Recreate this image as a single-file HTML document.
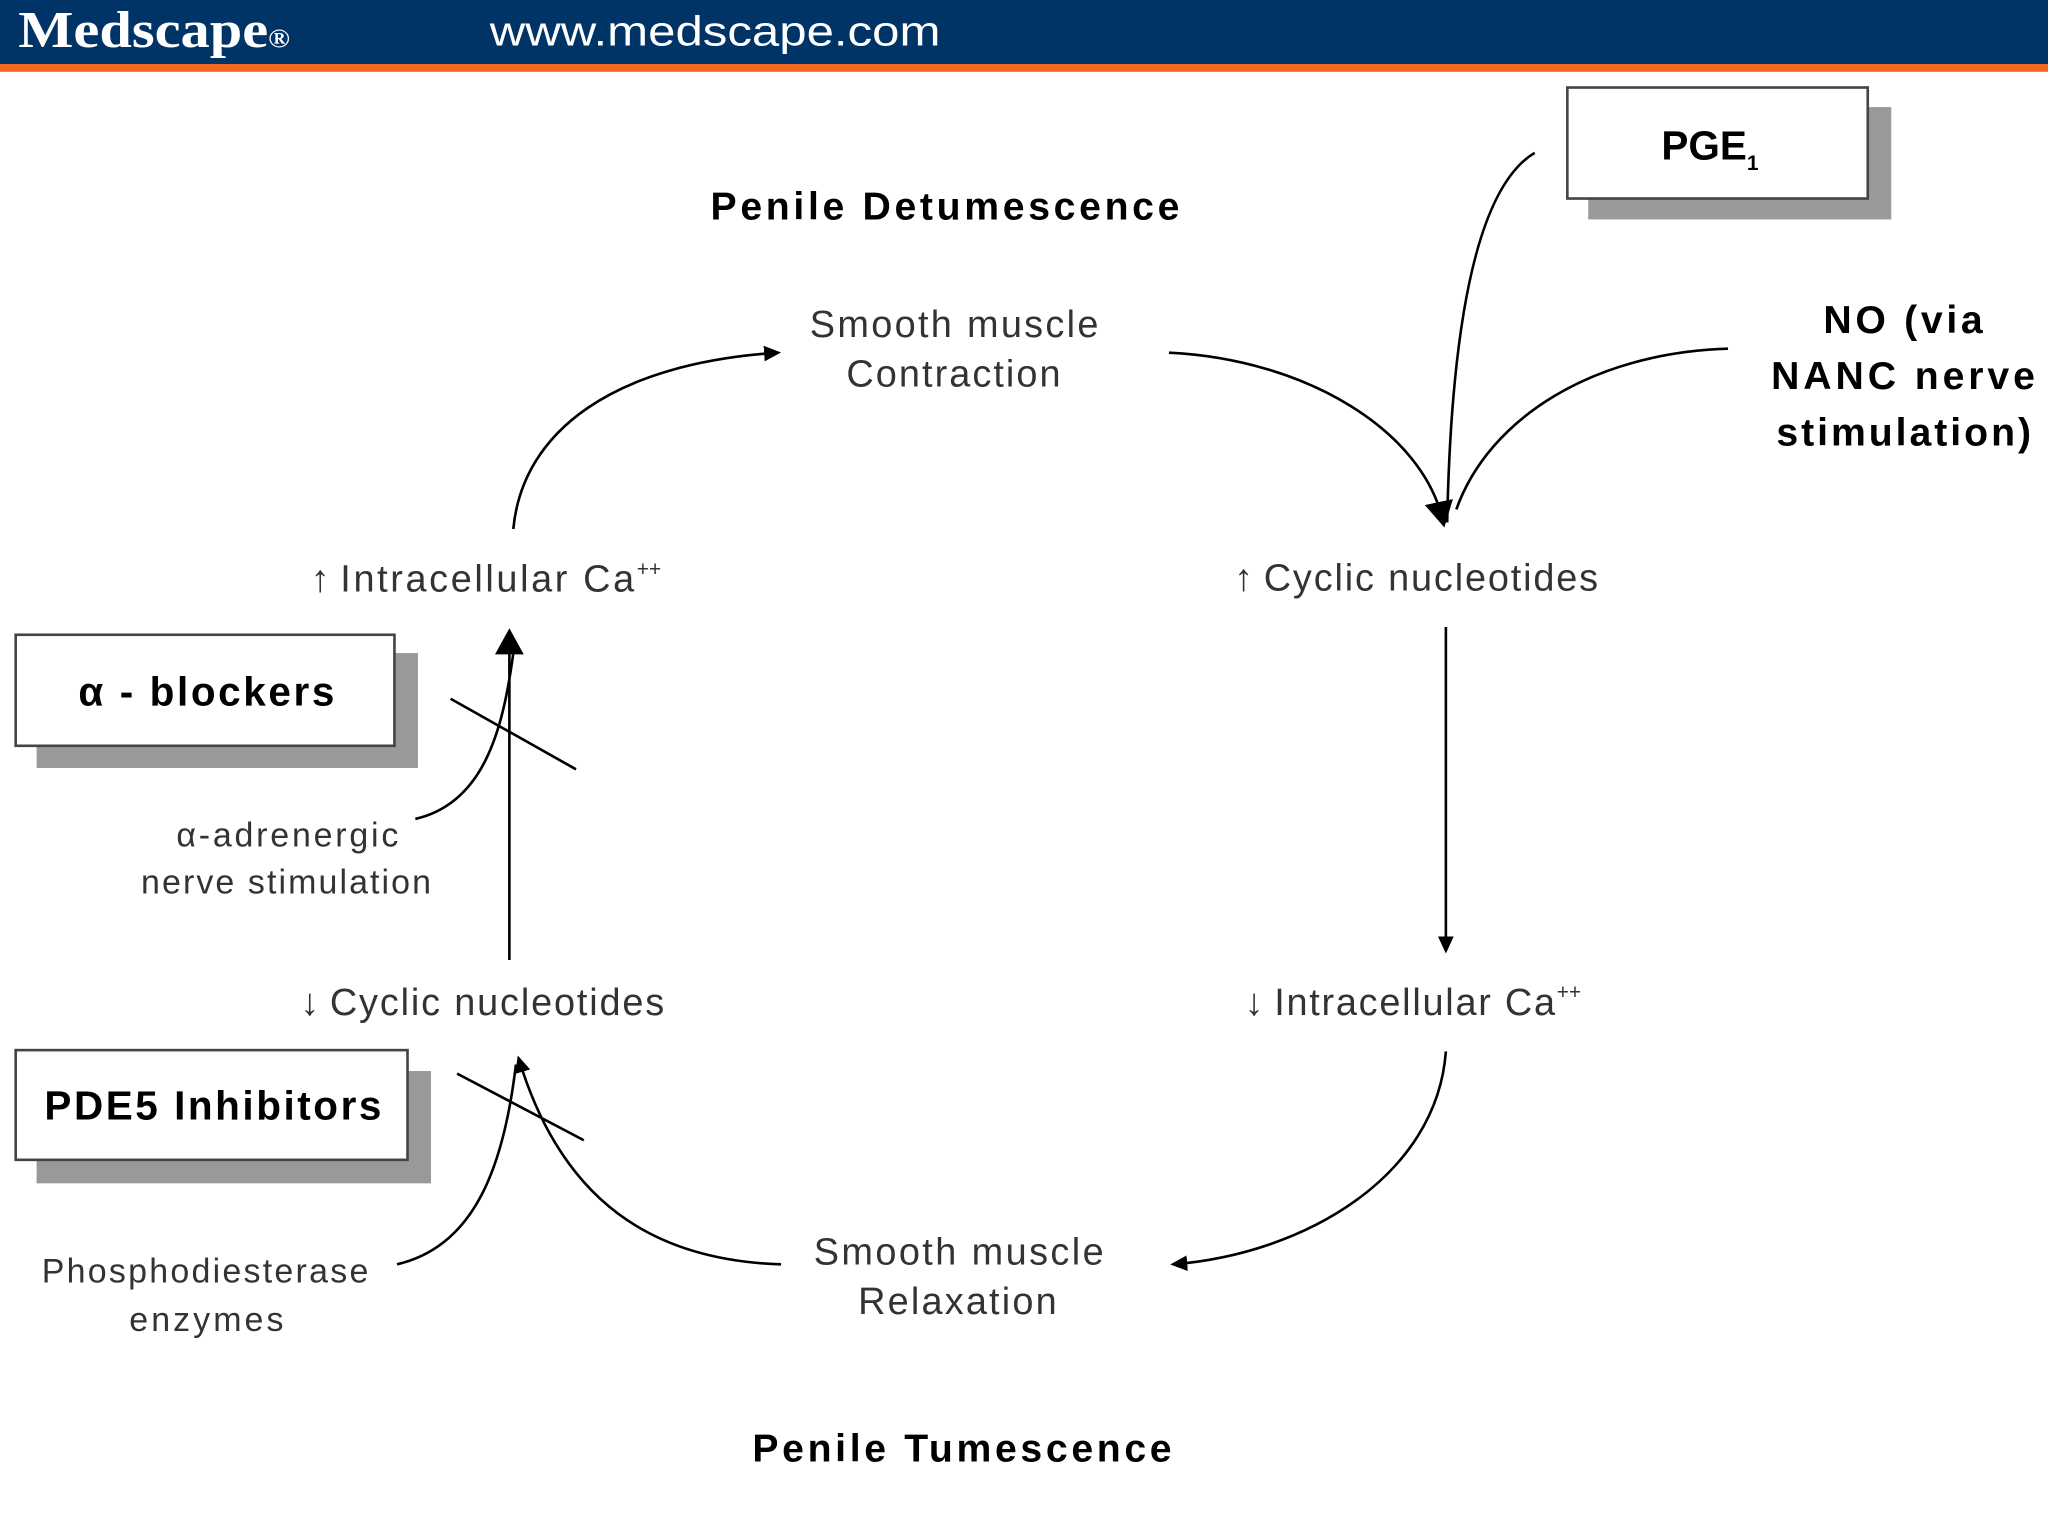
<!DOCTYPE html>
<html><head><meta charset="utf-8"><style>
html,body{margin:0;padding:0;background:#fff;}
svg{display:block}
text{font-family:"Liberation Sans",sans-serif;}
</style></head><body>
<svg width="2048" height="1536" viewBox="0 0 1568 1176" preserveAspectRatio="none" xmlns="http://www.w3.org/2000/svg">
<defs>
<marker id="a" markerWidth="14" markerHeight="12" refX="11" refY="6" orient="auto" markerUnits="userSpaceOnUse"><path d="M0,0 L13,6 L0,12 Z" fill="#000"/></marker>
<marker id="b" markerWidth="22" markerHeight="22" refX="16" refY="11" orient="auto" markerUnits="userSpaceOnUse"><path d="M0,0 L20,11 L0,22 Z" fill="#000"/></marker>
</defs>
<rect x="0" y="0" width="1568" height="49" fill="#003366"/>
<rect x="0" y="49" width="1568" height="6" fill="#f26722"/>
<text x="14" y="36" font-size="40" fill="#fff" style="font-family:'Liberation Serif',serif" font-weight="bold" textLength="208" lengthAdjust="spacingAndGlyphs">Medscape<tspan font-size="20">®</tspan></text>
<text x="375" y="35" font-size="32" fill="#fff" textLength="345" lengthAdjust="spacingAndGlyphs">www.medscape.com</text>

<g fill="#000">
<text x="544" y="168" font-size="30" font-weight="bold" textLength="359" lengthAdjust="spacing">Penile Detumescence</text>
<text x="576" y="1119" font-size="30" font-weight="bold" textLength="321" lengthAdjust="spacing">Penile Tumescence</text>
<text x="620" y="258" font-size="29" fill="#333" textLength="221" lengthAdjust="spacing">Smooth muscle</text>
<text x="648" y="296" font-size="29" fill="#333" textLength="164" lengthAdjust="spacing">Contraction</text>
<text x="623" y="968" font-size="29" fill="#333" textLength="222" lengthAdjust="spacing">Smooth muscle</text>
<text x="657" y="1006" font-size="29" fill="#333" textLength="152" lengthAdjust="spacing">Relaxation</text>
<text x="238" y="453" font-size="29" fill="#333">↑ <tspan textLength="225" lengthAdjust="spacing">Intracellular Ca</tspan><tspan font-size="16" dy="-12">++</tspan></text>
<text x="945" y="452" font-size="29" fill="#333">↑ <tspan textLength="256" lengthAdjust="spacing">Cyclic nucleotides</tspan></text>
<text x="230" y="777" font-size="29" fill="#333">↓ <tspan textLength="256" lengthAdjust="spacing">Cyclic nucleotides</tspan></text>
<text x="953" y="777" font-size="29" fill="#333">↓ <tspan textLength="215" lengthAdjust="spacing">Intracellular Ca</tspan><tspan font-size="16" dy="-12">++</tspan></text>
<text x="1396" y="255" font-size="30" font-weight="bold" textLength="122" lengthAdjust="spacing">NO (via</text>
<text x="1356" y="298" font-size="30" font-weight="bold" textLength="202" lengthAdjust="spacing">NANC nerve</text>
<text x="1360" y="341" font-size="30" font-weight="bold" textLength="195" lengthAdjust="spacing">stimulation)</text>
<text x="135" y="648" font-size="26" fill="#333" textLength="170" lengthAdjust="spacing">α-adrenergic</text>
<text x="108" y="684" font-size="26" fill="#333" textLength="222" lengthAdjust="spacing">nerve stimulation</text>
<text x="32" y="982" font-size="26" fill="#333" textLength="250" lengthAdjust="spacing">Phosphodiesterase</text>
<text x="99" y="1019" font-size="26" fill="#333" textLength="118" lengthAdjust="spacing">enzymes</text>
</g>

<rect x="1216" y="82" width="232" height="86" fill="#999"/>
<rect x="1200" y="67" width="230" height="85" fill="#fff" stroke="#444" stroke-width="2"/>
<text x="1272" y="122" font-size="31" font-weight="bold">PGE<tspan font-size="16" dy="8">1</tspan></text>
<rect x="28" y="500" width="292" height="88" fill="#999"/>
<rect x="12" y="486" width="290" height="85" fill="#fff" stroke="#444" stroke-width="2"/>
<text x="60" y="540" font-size="31" font-weight="bold" textLength="196" lengthAdjust="spacing">α - blockers</text>
<rect x="28" y="820" width="302" height="86" fill="#999"/>
<rect x="12" y="804" width="300" height="84" fill="#fff" stroke="#444" stroke-width="2"/>
<text x="34" y="857" font-size="31" font-weight="bold" textLength="258" lengthAdjust="spacing">PDE5 Inhibitors</text>

<g fill="none" stroke="#000" stroke-width="2">
<path d="M393,405 C400,330 470,278 596,270" marker-end="url(#a)"/>
<path d="M895,270 C1000,275 1090,330 1105,400" marker-end="url(#b)"/>
<path d="M1175,117 C1120,150 1110,300 1108,400"/>
<path d="M1323,267 C1220,270 1140,320 1115,390"/>
<path d="M1107,480 L1107,728" marker-end="url(#a)"/>
<path d="M1107,805 C1100,900 1000,960 898,968" marker-end="url(#a)"/>
<path d="M598,968 C500,965 430,920 397,810" marker-end="url(#a)"/>
<path d="M390,735 L390,485" marker-end="url(#b)"/>
<path d="M318,627 C370,615 385,560 393,500"/>
<path d="M345,535 L441,589"/>
<path d="M304,968 C360,955 385,900 395,815"/>
<path d="M350,822 L447,873"/>
</g>
</svg>
</body></html>
